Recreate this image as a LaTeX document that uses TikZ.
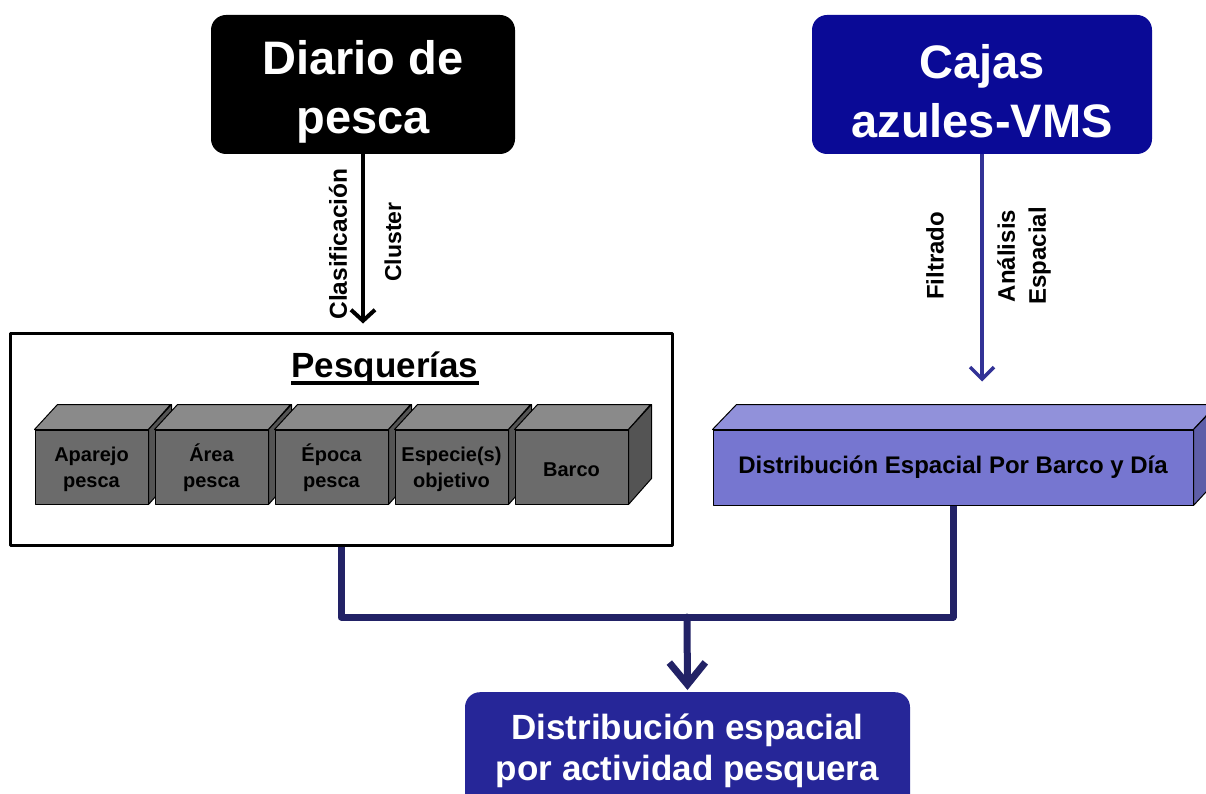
\documentclass[tikz,border=0pt]{standalone}
\usepackage{fontspec}
\setmainfont{Liberation Sans}
\usetikzlibrary{arrows.meta}

\definecolor{vmsblue}{RGB}{10,10,150}
\definecolor{actblue}{RGB}{38,38,152}
\definecolor{lineblue}{RGB}{50,50,150}
\definecolor{navyline}{RGB}{34,34,102}
\definecolor{cubefront}{RGB}{107,107,107}
\definecolor{cubetop}{RGB}{138,138,138}
\definecolor{cubeside}{RGB}{84,84,84}
\definecolor{distfront}{RGB}{118,118,208}
\definecolor{disttop}{RGB}{145,145,218}
\definecolor{distside}{RGB}{94,94,168}

\newcommand{\topstrut}{\rule{0pt}{48pt}}

\tikzset{
	bigbox/.style={rounded corners=15pt, minimum width=304pt, minimum height=139pt, align=center, text=white, font=\bfseries\fontsize{47}{59}\selectfont},
	cubeface/.style={draw=black, line width=1pt, line join=round},
	sidelbl/.style={rotate=90, align=center, font=\bfseries\fontsize{23}{30}\selectfont},
}

\begin{document}
\begin{tikzpicture}[x=1pt, y=-1pt, line join=round]
	\useasboundingbox (0,0) rectangle (1206,794);

	% (1) Diario de pesca
	\node[bigbox, fill=black] (diario) at (363,84.5) {\topstrut Diario de\\pesca};

	% (2) Cajas azules
	\node[bigbox, fill=vmsblue, minimum width=340pt] (cajas) at (982,84.5) {\topstrut Cajas\\azules-VMS};

	% (3) Pesquerias
	\node[draw, line width=3pt, minimum width=662pt, minimum height=212pt] (pesq) at (341,439) {};
	\node[inner sep=0pt, anchor=base, font=\bfseries\fontsize{35}{40}\selectfont] (pesqtit) at (385,377) {Pesquerías};
	\draw[line width=4pt] ([yshift=-6pt]pesqtit.base west) -- ([yshift=-6pt]pesqtit.base east);
	\foreach \i/\txt in {1/{Aparejo\\pesca}, 2/{Área\\pesca}, 3/{Época\\pesca}, 4/{Especie(s)\\objetivo}, 5/{Barco}} {
		\node[cubeface, fill=cubefront, minimum width=113pt, minimum height=74pt, align=center, font=\bfseries\fontsize{20}{26}\selectfont] (cubo\i) at (-28.5+120*\i,467) {\rule{0pt}{20pt}\txt};
		\draw[cubeface, fill=cubetop] (cubo\i.north west) -- ++(23,-25) -- ++(113,0) -- (cubo\i.north east) -- cycle;
		\draw[cubeface, fill=cubeside] (cubo\i.north east) -- ++(23,-25) -- ++(0,74) -- (cubo\i.south east) -- cycle;
	}

	% (4) Distribucion por barco
	\node[cubeface, fill=distfront, minimum width=480pt, minimum height=75pt, font=\bfseries\fontsize{24}{28}\selectfont] (dist) at (953,467.5) {Distribución Espacial Por Barco y Día};
	\draw[cubeface, fill=disttop] (dist.north west) -- ++(24,-25) -- ++(480,0) -- (dist.north east) -- cycle;
	\draw[cubeface, fill=distside] (dist.north east) -- ++(24,-25) -- ++(0,75) -- (dist.south east) -- cycle;

	% (5) Distribucion por actividad
	\node[rounded corners=15pt, fill=actblue, minimum width=445pt, minimum height=140pt, anchor=north] (actividad) at (687.5,692) {};
	\node[text=white, align=center, font=\bfseries\fontsize{35}{41}\selectfont] (actividadtxt) at (687.5,751) {Distribución espacial\\por actividad pesquera};

	% flechas
	\draw[line width=4pt, -{Straight Barb[length=11pt, width=24pt]}, shorten >=8pt] (diario.south) -- (diario.south |- pesq.north);
	\node[sidelbl, font=\bfseries\fontsize{24.5}{30}\selectfont] (clasif) at (338,244) {Clasificación};
	\node[sidelbl] (cluster) at (393,242) {Cluster};

	\draw[lineblue, line width=3.5pt, -{Straight Barb[length=12pt, width=24pt]}, shorten >=48pt] (cajas.south) -- (cajas.south |- dist.north);
	\node[sidelbl, font=\bfseries\fontsize{24}{30}\selectfont] (filtrado) at (935,256) {Filtrado};
	\node[sidelbl, font=\bfseries\fontsize{24}{31}\selectfont] (analisis) at (1024,256) {Análisis\\Espacial};

	\coordinate (junta) at (687,617);
	\draw[navyline, line width=7pt] (pesq.south) |- (junta) -| (dist.south);
	\draw[navyline, line width=7pt, line cap=round, -{Straight Barb[length=22pt, width=36pt]}, shorten >=2pt] (junta) -- (actividad.north);
\end{tikzpicture}
\end{document}
